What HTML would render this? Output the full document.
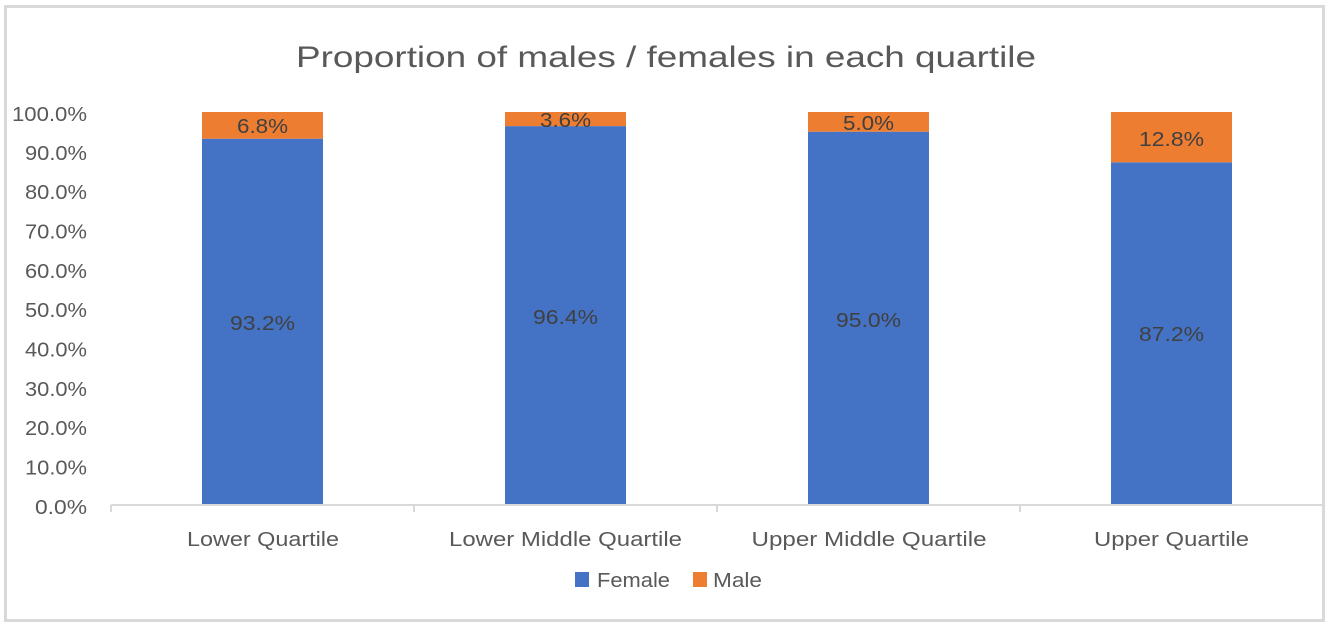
<!DOCTYPE html>
<html>
<head>
<meta charset="utf-8">
<style>
html,body{margin:0;padding:0;background:#fff;}
svg{display:block;}
text{font-family:"Liberation Sans",sans-serif;}
</style>
</head>
<body>
<svg width="1331" height="626" viewBox="0 0 1331 626" xmlns="http://www.w3.org/2000/svg">
<rect x="0" y="0" width="1331" height="626" fill="#fff"/>
<rect x="5.5" y="6.5" width="1318" height="614" fill="#fff" stroke="#d9d9d9" stroke-width="3"/>

<!-- title -->
<text x="666" y="67" font-size="30" fill="#595959" text-anchor="middle" textLength="740" lengthAdjust="spacingAndGlyphs">Proportion of males / females in each quartile</text>

<!-- y axis labels -->
<g font-size="20" fill="#595959" text-anchor="end">
<text x="87" y="121" textLength="75" lengthAdjust="spacingAndGlyphs">100.0%</text>
<text x="87" y="160" textLength="62" lengthAdjust="spacingAndGlyphs">90.0%</text>
<text x="87" y="199" textLength="62" lengthAdjust="spacingAndGlyphs">80.0%</text>
<text x="87" y="238.5" textLength="62" lengthAdjust="spacingAndGlyphs">70.0%</text>
<text x="87" y="278" textLength="62" lengthAdjust="spacingAndGlyphs">60.0%</text>
<text x="87" y="317" textLength="62" lengthAdjust="spacingAndGlyphs">50.0%</text>
<text x="87" y="356.5" textLength="62" lengthAdjust="spacingAndGlyphs">40.0%</text>
<text x="87" y="396" textLength="62" lengthAdjust="spacingAndGlyphs">30.0%</text>
<text x="87" y="435" textLength="62" lengthAdjust="spacingAndGlyphs">20.0%</text>
<text x="87" y="474.5" textLength="62" lengthAdjust="spacingAndGlyphs">10.0%</text>
<text x="87" y="514" textLength="52" lengthAdjust="spacingAndGlyphs">0.0%</text>
</g>

<!-- bars -->
<rect x="202" y="138.7" width="121" height="366.3" fill="#4472c4"/>
<rect x="202" y="112" width="121" height="26.7" fill="#ed7d31"/>

<rect x="505" y="126.1" width="121" height="378.9" fill="#4472c4"/>
<rect x="505" y="112" width="121" height="14.1" fill="#ed7d31"/>

<rect x="808" y="131.7" width="121" height="373.3" fill="#4472c4"/>
<rect x="808" y="112" width="121" height="19.7" fill="#ed7d31"/>

<rect x="1111" y="162.3" width="121" height="342.7" fill="#4472c4"/>
<rect x="1111" y="112" width="121" height="50.3" fill="#ed7d31"/>

<!-- x axis -->
<line x1="111" y1="505" x2="1322" y2="505" stroke="#d9d9d9" stroke-width="2"/>
<g stroke="#d9d9d9" stroke-width="2">
<line x1="111" y1="505" x2="111" y2="512"/>
<line x1="414" y1="505" x2="414" y2="512"/>
<line x1="717" y1="505" x2="717" y2="512"/>
<line x1="1020" y1="505" x2="1020" y2="512"/>
</g>

<!-- data labels -->
<g font-size="20" fill="#404040" text-anchor="middle">
<text x="262.5" y="133" textLength="51" lengthAdjust="spacingAndGlyphs">6.8%</text>
<text x="565.5" y="127" textLength="51" lengthAdjust="spacingAndGlyphs">3.6%</text>
<text x="868.5" y="130" textLength="51" lengthAdjust="spacingAndGlyphs">5.0%</text>
<text x="1171.5" y="146" textLength="65" lengthAdjust="spacingAndGlyphs">12.8%</text>
<text x="262.5" y="330" textLength="65" lengthAdjust="spacingAndGlyphs">93.2%</text>
<text x="565.5" y="324" textLength="65" lengthAdjust="spacingAndGlyphs">96.4%</text>
<text x="868.5" y="327" textLength="65" lengthAdjust="spacingAndGlyphs">95.0%</text>
<text x="1171.5" y="341" textLength="65" lengthAdjust="spacingAndGlyphs">87.2%</text>
</g>

<!-- category labels -->
<g font-size="20" fill="#595959" text-anchor="middle">
<text x="263" y="546" textLength="152" lengthAdjust="spacingAndGlyphs">Lower Quartile</text>
<text x="565.5" y="546" textLength="233" lengthAdjust="spacingAndGlyphs">Lower Middle Quartile</text>
<text x="869" y="546" textLength="235" lengthAdjust="spacingAndGlyphs">Upper Middle Quartile</text>
<text x="1171.5" y="546" textLength="155" lengthAdjust="spacingAndGlyphs">Upper Quartile</text>
</g>

<!-- legend -->
<rect x="575" y="572" width="14" height="15" fill="#4472c4"/>
<text x="597" y="587" font-size="20" fill="#595959" textLength="73" lengthAdjust="spacingAndGlyphs">Female</text>
<rect x="693" y="572" width="14" height="15" fill="#ed7d31"/>
<text x="713" y="587" font-size="20" fill="#595959" textLength="49" lengthAdjust="spacingAndGlyphs">Male</text>
</svg>
</body>
</html>
